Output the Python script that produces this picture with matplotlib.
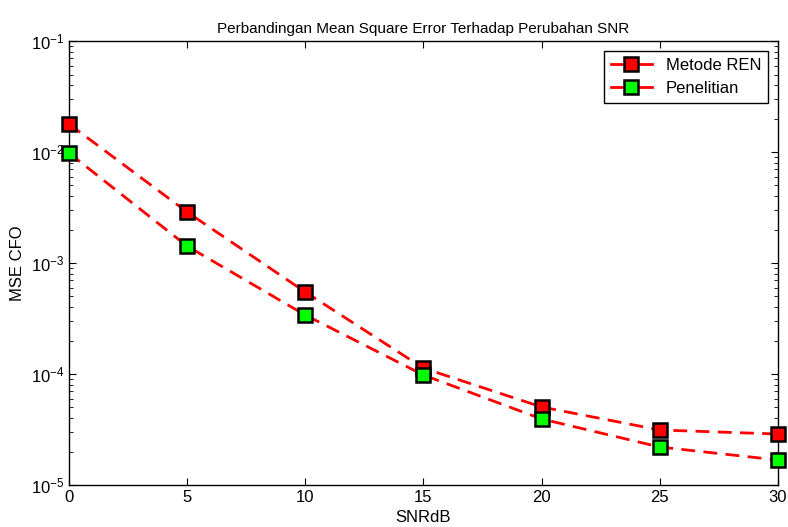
import matplotlib
matplotlib.use('Agg')
import matplotlib.pyplot as plt

plt.rcParams['font.family'] = ['Liberation Sans', 'DejaVu Sans']
plt.rcParams['mathtext.fontset'] = 'custom'
plt.rcParams['mathtext.rm'] = 'Liberation Sans'
plt.rcParams['mathtext.it'] = 'Liberation Sans'

snr = [0, 5, 10, 15, 20, 25, 30]
mse_ren = [1.79e-2, 2.88e-3, 5.48e-4, 1.13e-4, 5.05e-5, 3.13e-5, 2.88e-5]
mse_penelitian = [9.8e-3, 1.42e-3, 3.40e-4, 9.8e-5, 3.94e-5, 2.2e-5, 1.68e-5]

fig = plt.figure(figsize=(7.88, 5.27), dpi=100)
ax = fig.add_axes([0.0876, 0.0797, 0.8994, 0.8423])

ax.semilogy(snr, mse_ren, '--s', color='red', lw=2, dashes=(5, 3),
            markersize=10, markerfacecolor='red', markeredgecolor='black',
            markeredgewidth=1.8, label='Metode REN', clip_on=False, zorder=3)
ax.semilogy(snr, mse_penelitian, '--s', color='red', lw=2, dashes=(5, 3),
            markersize=10, markerfacecolor='#00ff00', markeredgecolor='black',
            markeredgewidth=1.8, label='Penelitian', clip_on=False, zorder=3)

ax.set_xlim(0, 30)
ax.set_ylim(1e-5, 1e-1)
ax.set_xticks(snr)
ax.tick_params(which='both', direction='in', top=True, right=True, labelsize=12)
ax.tick_params(which='major', length=5)
ax.tick_params(which='minor', length=3)
for sp in ax.spines.values():
    sp.set_linewidth(1)

ax.set_title('Perbandingan Mean Square Error Terhadap Perubahan SNR', fontsize=11)
ax.set_xlabel('SNRdB', fontsize=12)
ax.set_ylabel('MSE CFO', fontsize=12)

leg = ax.legend(loc='upper right', fontsize=12, fancybox=False, framealpha=1,
                edgecolor='black', handlelength=2.5, borderaxespad=0.6)
leg.set_zorder(5)
for line in leg.get_lines():
    line.set_linestyle('-')
leg.get_frame().set_linewidth(1)

fig.savefig('out.png', dpi=100)
